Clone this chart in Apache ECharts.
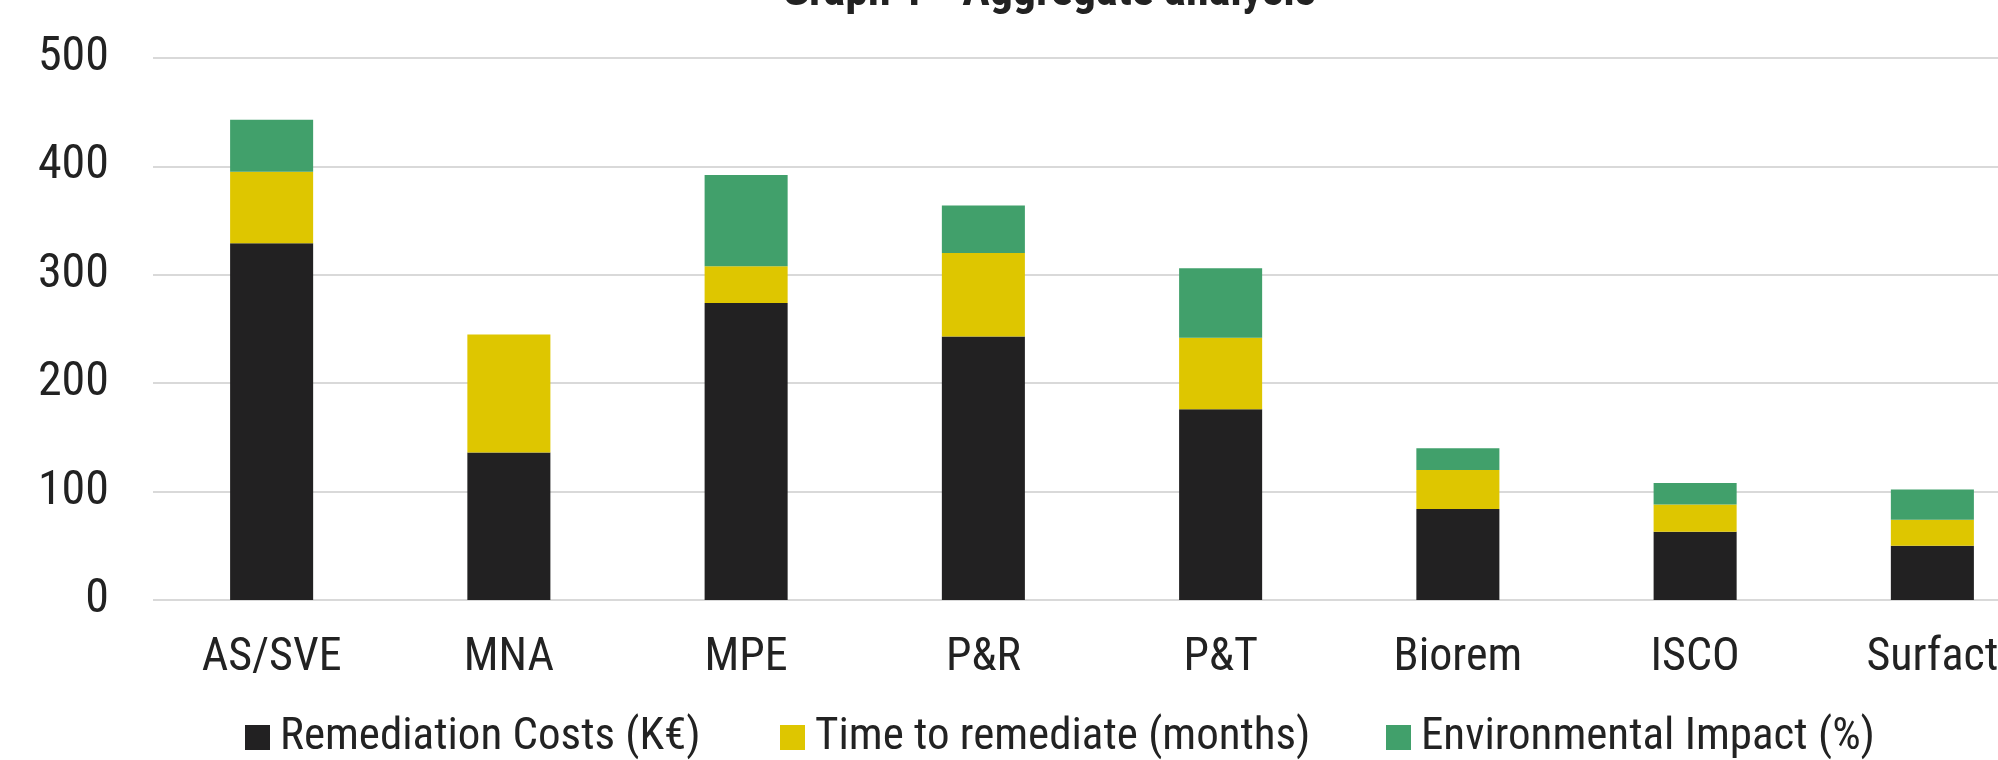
<!DOCTYPE html>
<html>
<head>
<meta charset="utf-8">
<script src="https://cdn.jsdelivr.net/npm/echarts@6/dist/echarts.min.js"></script>
<style>
  html, body { margin: 0; padding: 0; background: #ffffff; }
  #chart { width: 1998px; height: 760px; }
</style>
</head>
<body>
<div id="chart"></div>
<script>
// Remediation techniques compared on three stacked criteria
const categories = ['AS/SVE', 'MNA', 'MPE', 'P&R', 'P&T', 'Biorem', 'ISCO', 'Surfact'];
const remediationCosts = [329, 136, 274, 243, 176, 84, 63, 50];
const timeToRemediate = [66, 109, 34, 77, 66, 36, 25, 24];
const environmentalImpact = [48, 0, 84, 44, 64, 20, 20, 28];
const yTicks = [0, 100, 200, 300, 400, 500];
const seriesNames = ['Remediation Costs (K€)', 'Time to remediate (months)', 'Environmental Impact (%)'];
const seriesColors = ['#222122', '#dec600', '#41a06b'];

const TEXT = '#222222';
const FONT = '"Roboto Condensed", Roboto, sans-serif';
const textStyle = (size, extra) => Object.assign(
  { fontFamily: FONT, fontStyle: 'condensed', fontSize: size, color: TEXT }, extra || {});

const chart = echarts.init(document.getElementById('chart'), null, { renderer: 'canvas' });

// one legend block per series so each entry sits at its own x position
const legendLeft = [245, 780, 1386];
const legends = seriesNames.map((name, i) => ({
  left: legendLeft[i],
  top: 715,
  padding: 0,
  icon: 'rect',
  itemWidth: 25,
  itemHeight: 25,
  itemGap: 0,
  selectedMode: false,
  textStyle: textStyle(45, { padding: [0, 0, 0, 5] }),
  data: [name]
}));

chart.setOption({
  animation: false,
  title: {
    text: 'Graph 1 - Aggregate analysis',
    left: 782,
    top: -30,
    padding: 0,
    textStyle: textStyle(46, { fontWeight: 'bold' })
  },
  legend: legends,
  grid: {
    left: 153,
    right: -53,
    top: 58,
    bottom: 160,
    containLabel: false,
    outerBoundsMode: 'none'
  },
  xAxis: {
    type: 'category',
    data: categories,
    axisLine: { show: false },
    axisTick: { show: false },
    axisLabel: textStyle(46, { margin: 35, interval: 0 })
  },
  yAxis: {
    type: 'value',
    min: yTicks[0],
    max: yTicks[yTicks.length - 1],
    interval: yTicks[1] - yTicks[0],
    axisLine: { show: false },
    axisTick: { show: false },
    axisLabel: textStyle(48, { margin: 44 }),
    splitLine: { lineStyle: { color: '#d9d9d9', width: 2 } }
  },
  series: seriesNames.map((name, i) => ({
    name: name,
    type: 'bar',
    stack: 'total',
    data: [remediationCosts, timeToRemediate, environmentalImpact][i],
    barWidth: '35%',
    itemStyle: { color: seriesColors[i] },
    emphasis: { disabled: true }
  }))
});
</script>
</body>
</html>
